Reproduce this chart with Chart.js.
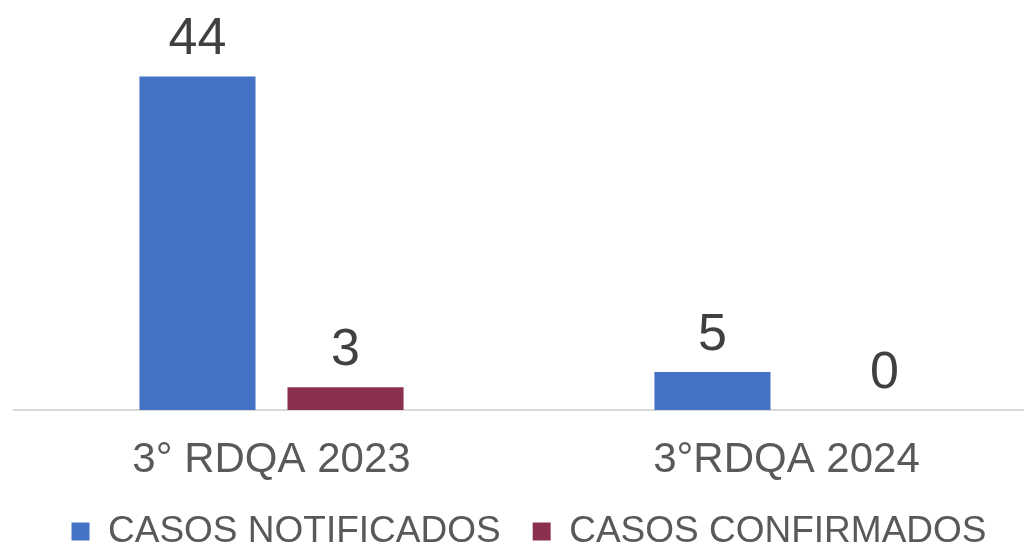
<!DOCTYPE html>
<html>
<head>
<meta charset="utf-8">
<script src="https://cdn.jsdelivr.net/npm/chart.js@4.4.1/dist/chart.umd.min.js"></script>
<style>
  html, body { margin: 0; padding: 0; background: #ffffff; overflow: hidden; }
  #wrap { position: relative; width: 1058px; height: 550px; }
</style>
</head>
<body>
<div id="wrap"><canvas id="c"></canvas></div>
<script>
const categories = ['3° RDQA 2023', '3°RDQA 2024'];
const seriesNames = ['CASOS NOTIFICADOS', 'CASOS CONFIRMADOS'];
const notificados = [44, 5];
const confirmados = [3, 0];

const TEXT = '#595959';
const FONT = "'Liberation Sans', Arial, sans-serif";

const dataLabels = {
  id: 'dataLabels',
  afterDatasetsDraw(chart) {
    const ctx = chart.ctx;
    ctx.save();
    ctx.fillStyle = '#404040';
    ctx.font = '52px ' + FONT;
    ctx.textAlign = 'center';
    ctx.textBaseline = 'alphabetic';
    chart.data.datasets.forEach((ds, i) => {
      const meta = chart.getDatasetMeta(i);
      meta.data.forEach((bar, j) => {
        const v = ds.data[j];
        const dx = v === 0 ? 24 : 0;
        ctx.fillText(String(v), bar.x + dx, bar.y - 22);
      });
    });
    ctx.restore();
  }
};

new Chart(document.getElementById('c'), {
  type: 'bar',
  data: {
    labels: categories,
    datasets: [
      { label: seriesNames[0], data: notificados, backgroundColor: '#4472C4', borderWidth: 0,
        categoryPercentage: 0.575, barPercentage: 0.784 },
      { label: seriesNames[1], data: confirmados, backgroundColor: '#8B2F4F', borderWidth: 0,
        categoryPercentage: 0.575, barPercentage: 0.784 }
    ]
  },
  options: {
    responsive: true,
    maintainAspectRatio: false,
    animation: false,
    layout: { padding: { left: 14, right: 14, top: 31, bottom: 0 } },
    plugins: {
      legend: {
        position: 'bottom',
        maxHeight: 69,
        labels: {
          color: TEXT,
          font: { family: FONT, size: 37 },
          boxWidth: 18,
          boxHeight: 18,
          padding: 32
        }
      },
      tooltip: { enabled: false },
      title: { display: false }
    },
    scales: {
      x: {
        grid: { display: false, drawTicks: false },
        border: { display: true, color: '#d9d9d9', width: 2 },
        ticks: { color: TEXT, font: { family: FONT, size: 42, lineHeight: 1 }, padding: 29 },
        afterFit(scale) { scale.height = 71; }
      },
      y: {
        display: false,
        min: 0,
        max: 50
      }
    }
  },
  plugins: [dataLabels]
});
</script>
</body>
</html>
